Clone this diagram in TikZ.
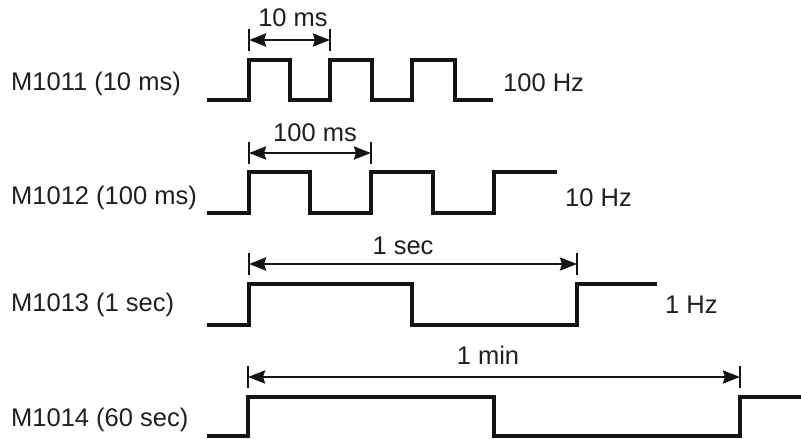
\documentclass[tikz,border=0pt]{standalone}
\usepackage{fontspec}
\setmainfont{Liberation Sans}
\usepackage{tikz}
\usetikzlibrary{arrows.meta,positioning}

\begin{document}
\begin{tikzpicture}[x=1pt, y=-1pt,
    % ---- styles ----
    W/.style={line width=3.4pt, line join=miter, color=black!92},
    DIM/.style={{Stealth[length=17pt, width=13pt, inset=2pt]}-{Stealth[length=17pt, width=13pt, inset=2pt]},
                line width=2.6pt, color=black!92},
    TK/.style={line width=2.6pt, color=black!92},
    L/.style={font=\fontsize{25.5}{30}\selectfont, inner sep=0pt, text=black!88},
]
\useasboundingbox (0,0) rectangle (801,439);

% ===== Row 1: M1011, 10 ms =====
\node[L, anchor=west] (m1011) at (11,84)  {M1011 (10 ms)};
\node[L, anchor=west] (hz100) at (503,83) {100 Hz};
\draw[W] (207,100) -| (249,60) -| (290,100) -| (330,60) -| (372,100)
         -| (412,60) -| (455,100) -- (493,100);
\coordinate (a1) at (249,40);
\coordinate (b1) at (330,40);
\draw[DIM] (a1) -- (b1);
\node[L] (t10ms) at (293,18) {10 ms};

% ===== Row 2: M1012, 100 ms =====
\node[L, anchor=west] (m1012) at (11,198)  {M1012 (100 ms)};
\node[L, anchor=west] (hz10)  at (565,198) {10 Hz};
\draw[W] (207,213) -| (249,172) -| (310,213) -| (371,172) -| (433,213)
         -| (494,172) -- (557,172);
\coordinate (a2) at (249,153);
\coordinate (b2) at (371,153);
\draw[DIM] (a2) -- (b2);
\node[L] (t100ms) at (315,133) {100 ms};

% ===== Row 3: M1013, 1 sec =====
\node[L, anchor=west] (m1013) at (11,305)  {M1013 (1 sec)};
\node[L, anchor=west] (hz1)   at (665,305) {1 Hz};
\draw[W] (207,325) -| (249,284) -| (412,325) -| (577,284) -- (657,284);
\coordinate (a3) at (249,264);
\coordinate (b3) at (577,264);
\draw[DIM] (a3) -- (b3);
\node[L] (t1sec) at (403,246) {1 sec};

% ===== Row 4: M1014, 60 sec =====
\node[L, anchor=west] (m1014) at (11,420) {M1014 (60 sec)};
\draw[W] (207,436) -| (248,397) -| (494,436) -| (740,397) -- (801,397);
\coordinate (a4) at (248,377);
\coordinate (b4) at (740,377);
\draw[DIM] (a4) -- (b4);
\node[L] (t1min) at (488,355) {1 min};

% ticks at the ends of the dimension arrows
\foreach \p in {a1,b1,a2,b2,a3,b3,a4,b4}
    \draw[TK] ([yshift=-11pt]\p) -- ([yshift=11pt]\p);

\end{tikzpicture}
\end{document}
